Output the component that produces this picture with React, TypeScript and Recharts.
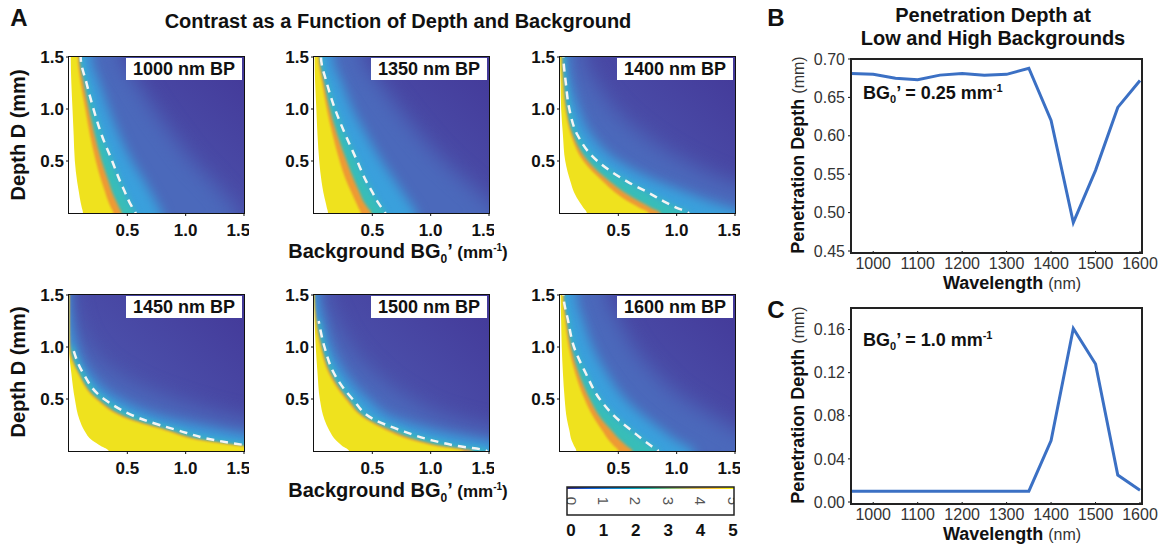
import React from "react";
import {
  ComposedChart,
  LineChart,
  Area,
  Line,
  XAxis,
  YAxis,
  CartesianGrid,
} from "recharts";

const FONT = '"Liberation Sans", Arial, Helvetica, sans-serif';

// ---- panel A: contrast maps, boundaries read as BG' value at each depth ----
const PANELS = [1000, 1350, 1400, 1450, 1500, 1600];
const DEPTHS = [0, 0.05, 0.1, 0.2, 0.3, 0.5, 0.75, 1.0, 1.25, 1.5];
const MAP_TICKS = [0.5, 1.0, 1.5];

// edge of the white (no signal) corner
const WHITE_EDGE = [
  [0.12, 0.11, 0.1, 0.085, 0.07, 0.05, 0.04, 0.03, 0.02, 0.015],
  [0.12, 0.11, 0.1, 0.08, 0.065, 0.045, 0.03, 0.02, 0.01, 0.005],
  [0.23, 0.2, 0.17, 0.12, 0.09, 0.045, 0.025, 0.01, 0.005, 0],
  [0.34, 0.27, 0.2, 0.13, 0.09, 0.05, 0.02, 0, 0, 0],
  [0.3, 0.24, 0.19, 0.13, 0.09, 0.05, 0.03, 0.015, 0.005, 0],
  [0.14, 0.12, 0.1, 0.08, 0.06, 0.04, 0.025, 0.015, 0.01, 0.005],
];
// yellow -> orange
const YELLOW_EDGE = [
  [0.38, 0.36, 0.34, 0.31, 0.28, 0.23, 0.18, 0.14, 0.1, 0.075],
  [0.4, 0.38, 0.36, 0.32, 0.28, 0.22, 0.16, 0.11, 0.07, 0.035],
  [0.76, 0.68, 0.6, 0.47, 0.37, 0.2, 0.095, 0.045, 0.022, 0.01],
  [1.78, 1.43, 1.13, 0.82, 0.52, 0.23, 0.075, 0, 0, 0],
  [1.28, 1.03, 0.85, 0.62, 0.45, 0.27, 0.125, 0.055, 0.012, 0],
  [0.5, 0.46, 0.42, 0.36, 0.3, 0.21, 0.13, 0.075, 0.045, 0.022],
];
// orange -> green
const ORANGE_EDGE = [
  [0.45, 0.43, 0.41, 0.37, 0.34, 0.28, 0.22, 0.17, 0.125, 0.088],
  [0.49, 0.46, 0.43, 0.39, 0.35, 0.28, 0.2, 0.135, 0.085, 0.045],
  [0.86, 0.78, 0.7, 0.55, 0.43, 0.24, 0.11, 0.053, 0.028, 0.014],
  [1.84, 1.47, 1.17, 0.85, 0.55, 0.245, 0.082, 0.008, 0, 0],
  [1.36, 1.08, 0.9, 0.66, 0.47, 0.29, 0.14, 0.065, 0.02, 0],
  [0.62, 0.57, 0.52, 0.44, 0.36, 0.255, 0.16, 0.095, 0.055, 0.028],
];
// dashed contour
const CONTOUR = [
  [0.57, 0.545, 0.52, 0.48, 0.44, 0.37, 0.28, 0.21, 0.15, 0.1],
  [0.61, 0.58, 0.55, 0.5, 0.45, 0.37, 0.27, 0.18, 0.11, 0.06],
  [1.1, 1.0, 0.91, 0.75, 0.58, 0.32, 0.15, 0.08, 0.05, 0.03],
  [1.9, 1.55, 1.27, 0.93, 0.64, 0.3, 0.12, 0.03, null, null],
  [1.48, 1.22, 1.02, 0.74, 0.52, 0.33, 0.17, 0.09, 0.04, null],
  [0.84, 0.78, 0.72, 0.61, 0.5, 0.34, 0.22, 0.12, 0.07, 0.03],
];
// cyan band
const CYAN_EDGE = [
  [0.8, 0.77, 0.75, 0.7, 0.65, 0.54, 0.43, 0.34, 0.26, 0.19],
  [0.88, 0.85, 0.82, 0.76, 0.7, 0.58, 0.45, 0.33, 0.24, 0.16],
  [1.6, 1.46, 1.32, 1.08, 0.85, 0.5, 0.27, 0.16, 0.09, 0.055],
  [2.5, 2.1, 1.8, 1.3, 0.88, 0.42, 0.17, 0.06, 0.015, 0],
  [1.95, 1.7, 1.45, 1.02, 0.72, 0.46, 0.26, 0.14, 0.075, 0.03],
  [1.15, 1.08, 1.0, 0.88, 0.76, 0.56, 0.4, 0.28, 0.2, 0.14],
];
// light blue glow
const GLOW_EDGE = [
  [1.45, 1.42, 1.38, 1.3, 1.22, 1.05, 0.88, 0.72, 0.58, 0.45],
  [1.6, 1.55, 1.5, 1.4, 1.3, 1.1, 0.9, 0.72, 0.56, 0.42],
  [2.5, 2.3, 2.1, 1.75, 1.45, 1.05, 0.7, 0.45, 0.3, 0.2],
  [3.5, 3.0, 2.6, 2.0, 1.5, 0.85, 0.38, 0.16, 0.06, 0.02],
  [3.0, 2.6, 2.2, 1.6, 1.2, 0.8, 0.5, 0.3, 0.18, 0.1],
  [1.9, 1.8, 1.7, 1.5, 1.35, 1.05, 0.8, 0.62, 0.5, 0.4],
];

// ---- panels B and C ----
const WAVELENGTHS = [950, 1000, 1050, 1100, 1150, 1200, 1250, 1300, 1350, 1400, 1450, 1500, 1550, 1600];
const DEPTH_LOW_BG = [0.681, 0.68, 0.675, 0.673, 0.679, 0.681, 0.679, 0.68, 0.688, 0.62, 0.487, 0.555, 0.637, 0.672];
const DEPTH_HIGH_BG = [0.01, 0.01, 0.01, 0.01, 0.01, 0.01, 0.01, 0.01, 0.01, 0.057, 0.161, 0.128, 0.025, 0.011];
const WL_TICKS = [1000, 1100, 1200, 1300, 1400, 1500, 1600];
const LOW_TICKS = [0.45, 0.5, 0.55, 0.6, 0.65, 0.7];
const HIGH_TICKS = [0, 0.04, 0.08, 0.12, 0.16];
const CBAR_TICKS = [0, 1, 2, 3, 4, 5];
const PARULA = ["#352a87", "#0f5cdd", "#1481d6", "#06a4ca", "#2eb7a4", "#87bf77", "#d1bb59", "#fec832", "#f9fb0e"];

const PLOT_LEFT = [69, 314, 560];
const PLOT_TOP = [57, 295];
const PW = 175;
const PH = 156;

function mapRows(i: number) {
  const rows = DEPTHS.map((d, k) => ({
    d,
    white: WHITE_EDGE[i][k],
    yellow: YELLOW_EDGE[i][k],
    orange: ORANGE_EDGE[i][k],
    dash: CONTOUR[i][k],
    cyan: CYAN_EDGE[i][k],
    glow: GLOW_EDGE[i][k],
  }));
  // pad past the frame so the soft fills don't fade at the edges
  return [{ ...rows[0], d: -0.2 }, ...rows, { ...rows[rows.length - 1], d: 1.7 }];
}

const mapTick = { fill: "#111", fontSize: 17, fontWeight: 700, fontFamily: FONT };

function Txt({ x, y, children, size = 20, weight = 700, rotate = 0, anchor = "center", color = "#111" }: any) {
  const tx = anchor === "center" ? "-50%" : "0";
  return (
    <div
      style={{
        position: "absolute",
        left: x,
        top: y,
        transform: `translate(${tx}, -50%) rotate(${rotate}deg)`,
        fontFamily: FONT,
        fontSize: size,
        fontWeight: weight,
        color,
        whiteSpace: "nowrap",
        lineHeight: 1,
      }}
    >
      {children}
    </div>
  );
}

function ContrastMap({ i }: { i: number }) {
  const left = PLOT_LEFT[i % 3];
  const top = PLOT_TOP[Math.floor(i / 3)];
  const id = `map${i}`;
  return (
    <>
      <div style={{ position: "absolute", left: left - 40, top: top - 10 }}>
        <ComposedChart
          layout="vertical"
          width={40 + PW + 5}
          height={10 + PH + 30}
          data={mapRows(i)}
          margin={{ top: 10, right: 5, left: 0, bottom: 0 }}
        >
          <defs>
            <linearGradient id={`${id}-bg`} x1="0" y1="1" x2="1" y2="0">
              <stop offset="0%" stopColor="#4d62b4" />
              <stop offset="50%" stopColor="#4a4da8" />
              <stop offset="100%" stopColor="#433898" />
            </linearGradient>
          </defs>
          <CartesianGrid horizontal={false} vertical={false} fill={`url(#${id}-bg)`} fillOpacity={1} stroke="none" />
          <XAxis
            type="number"
            domain={[0, 1.5]}
            ticks={MAP_TICKS}
            allowDataOverflow
            tickFormatter={(v) => v.toFixed(1)}
            height={30}
            tickSize={3}
            tickMargin={8}
            axisLine={false}
            tickLine={{ stroke: "#111" }}
            tick={mapTick}
          />
          <YAxis
            type="number"
            dataKey="d"
            domain={[0, 1.5]}
            ticks={MAP_TICKS}
            reversed
            allowDataOverflow
            tickFormatter={(v) => v.toFixed(1)}
            width={40}
            tickSize={3}
            tickMargin={2}
            axisLine={false}
            tickLine={{ stroke: "#111" }}
            tick={mapTick}
          />
          <Area dataKey="glow" className="soft-10" type="monotone" fill="#4b69bb" fillOpacity={1} stroke="none" baseValue={-0.4} isAnimationActive={false} />
          <Area dataKey="cyan" className="soft-6" type="monotone" fill="#3aa0dc" fillOpacity={1} stroke="none" baseValue={-0.4} isAnimationActive={false} />
          <Area dataKey="dash" className="soft-3" type="monotone" fill="#38bdb8" fillOpacity={1} stroke="none" baseValue={-0.4} isAnimationActive={false} />
          <Area dataKey="orange" className="soft-2" type="monotone" fill="#ee9a34" fillOpacity={1} stroke="none" baseValue={-0.4} isAnimationActive={false} />
          <Area dataKey="yellow" className="soft-1" type="monotone" fill="#efe21e" fillOpacity={1} stroke="none" baseValue={-0.4} isAnimationActive={false} />
          <Area dataKey="white" type="monotone" fill="#ffffff" fillOpacity={1} stroke="none" baseValue={-0.4} isAnimationActive={false} />
          <Line dataKey="dash" type="monotone" stroke="#f4f4f4" strokeWidth={2.5} strokeDasharray="8 6" dot={false} isAnimationActive={false} />
        </ComposedChart>
      </div>
      <div
        style={{
          position: "absolute",
          left: left - 1,
          top: top - 1,
          width: PW,
          height: PH,
          border: "1.5px solid #111",
          pointerEvents: "none",
        }}
      />
      <div
        style={{
          position: "absolute",
          left: left + PW - 118,
          top: top + 1,
          width: 116,
          height: 22,
          background: "#fff",
          fontFamily: FONT,
          fontSize: 18,
          fontWeight: 700,
          color: "#111",
          textAlign: "center",
          lineHeight: "23px",
        }}
      >
        {PANELS[i]} nm BP
      </div>
    </>
  );
}

function DepthChart({ top, height, values, domain, ticks, note }: any) {
  const data = WAVELENGTHS.map((wl, k) => ({ wl, depth: values[k] }));
  const axisTick = { fill: "#333", fontSize: 16, fontFamily: FONT };
  return (
    <>
      <div style={{ position: "absolute", left: 801, top: top - 12 }}>
        <LineChart width={50 + 289 + 25} height={12 + height + 25} data={data} margin={{ top: 12, right: 25, left: 0, bottom: 0 }}>
          <XAxis
            dataKey="wl"
            type="number"
            domain={[950, 1600]}
            ticks={WL_TICKS}
            interval={0}
            height={25}
            tickSize={3}
            tickMargin={4}
            axisLine={false}
            tickLine={{ stroke: "#111" }}
            tick={axisTick}
          />
          <YAxis
            domain={domain}
            ticks={ticks}
            interval={0}
            tickFormatter={(v) => v.toFixed(2)}
            width={50}
            tickSize={3}
            tickMargin={3}
            axisLine={false}
            tickLine={{ stroke: "#111" }}
            tick={axisTick}
          />
          <Line dataKey="depth" type="linear" stroke="#3b70c4" strokeWidth={3} dot={false} isAnimationActive={false} />
        </LineChart>
      </div>
      <div
        style={{
          position: "absolute",
          left: 850,
          top: top - 1,
          width: 289,
          height: height,
          border: "2px solid #222",
          pointerEvents: "none",
        }}
      />
      <Txt x={863} y={note.y} anchor="left" size={18}>
        BG<sub style={{ fontSize: 11 }}>0</sub>’ = {note.text} mm<sup style={{ fontSize: 11 }}>-1</sup>
      </Txt>
      <Txt x={798} y={top + height / 2} rotate={-90} size={18}>
        Penetration Depth <span style={{ fontWeight: 400, fontSize: 16, color: "#333" }}>(mm)</span>
      </Txt>
      <Txt x={1012} y={top + height + 32} size={18}>
        Wavelength <span style={{ fontWeight: 400, fontSize: 16, color: "#333" }}>(nm)</span>
      </Txt>
    </>
  );
}

function BgLabel({ y }: { y: number }) {
  return (
    <Txt x={398} y={y} size={20}>
      Background BG<sub style={{ fontSize: 12 }}>0</sub>’ <span style={{ fontSize: 17 }}>(mm<sup style={{ fontSize: 10 }}>-1</sup>)</span>
    </Txt>
  );
}

function ColorBar() {
  const step = 162 / 5;
  return (
    <svg style={{ position: "absolute", left: 566, top: 486 }} width={170} height={30}>
      <defs>
        <linearGradient id="parula" x1="0" y1="0" x2="1" y2="0">
          {PARULA.map((c, k) => (
            <stop key={k} offset={`${(k / (PARULA.length - 1)) * 100}%`} stopColor={c} />
          ))}
        </linearGradient>
        <clipPath id="cbar-clip">
          <rect x={1} y={1} width={167} height={28} />
        </clipPath>
      </defs>
      <rect x={1} y={1} width={167} height={28} fill="#fff" />
      <rect x={1} y={1} width={167} height={2} fill="url(#parula)" />
      <g clipPath="url(#cbar-clip)">
        {CBAR_TICKS.map((t) => (
          <text
            key={t}
            transform={`translate(${5 + t * step}, 15) rotate(90)`}
            textAnchor="middle"
            dominantBaseline="central"
            fontFamily={FONT}
            fontSize={15}
            fill="#555"
          >
            {t}
          </text>
        ))}
      </g>
      <rect x={1} y={1} width={167} height={28} fill="none" stroke="#222" strokeWidth={1.5} />
    </svg>
  );
}

export default function App() {
  return (
    <div style={{ position: "absolute", left: 0, top: 0, width: 1162, height: 546, background: "#fff", overflow: "hidden" }}>
      <style>{`
        .soft-10 .recharts-area-area { filter: blur(10px); }
        .soft-6 .recharts-area-area { filter: blur(6px); }
        .soft-3 .recharts-area-area { filter: blur(3px); }
        .soft-2 .recharts-area-area { filter: blur(1.5px); }
        .soft-1 .recharts-area-area { filter: blur(0.8px); }
      `}</style>

      <Txt x={19} y={18} size={24}>A</Txt>
      <Txt x={398} y={21} size={20}>Contrast as a Function of Depth and Background</Txt>
      <Txt x={18} y={135} rotate={-90}>Depth D (mm)</Txt>
      <Txt x={18} y={372} rotate={-90}>Depth D (mm)</Txt>
      <BgLabel y={253} />
      <BgLabel y={492} />

      {PANELS.map((_, i) => (
        <ContrastMap key={i} i={i} />
      ))}

      <ColorBar />
      {CBAR_TICKS.map((t) => (
        <Txt key={t} x={571 + t * 32.4} y={530} size={17}>
          {t}
        </Txt>
      ))}

      <Txt x={776} y={18} size={24}>B</Txt>
      <Txt x={776} y={310} size={24}>C</Txt>
      <Txt x={993} y={15} size={20}>Penetration Depth at</Txt>
      <Txt x={993} y={38} size={20}>Low and High Backgrounds</Txt>

      <DepthChart top={59} height={192} values={DEPTH_LOW_BG} domain={[0.45, 0.7]} ticks={LOW_TICKS} note={{ y: 94, text: "0.25" }} />
      <DepthChart top={308} height={194} values={DEPTH_HIGH_BG} domain={[0, 0.18]} ticks={HIGH_TICKS} note={{ y: 341, text: "1.0" }} />
    </div>
  );
}
